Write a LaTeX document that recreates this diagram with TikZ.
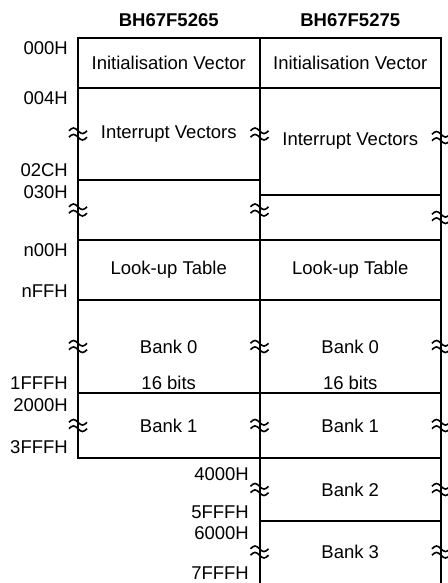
\documentclass[tikz,border=0pt]{standalone}
\usepackage{fontspec}
\setmainfont{Liberation Sans}
\usepackage{tikz}
\usetikzlibrary{positioning}

\begin{document}
\begin{tikzpicture}[
    x=1pt, y=-1pt,
    node distance=0pt,
    font=\fontsize{18.5}{22}\selectfont,
    cell/.style={draw, line width=2pt, rectangle, inner sep=0pt, outer sep=0pt,
      minimum width=181.5pt, align=center},
    addr/.style={anchor=east, inner sep=0pt},
    hdr/.style={font=\fontsize{18.5}{22}\selectfont\bfseries},
    brk/.pic={
      \draw[line width=1.6pt] (-9pt,3.2pt) sin (-4.5pt,6pt) cos (0pt,3.2pt) sin (4.5pt,0.4pt) cos (9pt,3.2pt);
      \draw[line width=1.6pt] (-9pt,-3.2pt) sin (-4.5pt,-0.4pt) cos (0pt,-3.2pt) sin (4.5pt,-6pt) cos (9pt,-3.2pt);
    }
  ]
    \useasboundingbox (0,0) rectangle (447,583);

    % left device
    \node[cell, minimum height=50pt, anchor=north west] (initL) at (78,38) {Initialisation Vector};
    \node[cell, minimum height=92pt, below=of initL] (intL) {Interrupt Vectors};
    \node[cell, minimum height=60pt, below=of intL] (gapL) {};
    \node[cell, minimum height=60pt, below=of gapL] (lutL) {Look-up Table};
    \node[cell, minimum height=93pt, below=of lutL] (bank0L) {Bank 0};
    \node[cell, minimum height=65pt, below=of bank0L] (bank1L) {Bank 1};
    \node (bitsL) at ([yshift=10pt]bank0L.south) {16 bits};

    % right device
    \node[cell, minimum height=50pt, right=of initL] (initR) {Initialisation Vector};
    \node[cell, minimum height=107pt, below=of initR] (intR) {Interrupt Vectors};
    \node[cell, minimum height=45pt, below=of intR] (gapR) {};
    \node[cell, minimum height=60pt, below=of gapR] (lutR) {Look-up Table};
    \node[cell, minimum height=93pt, below=of lutR] (bank0R) {Bank 0};
    \node[cell, minimum height=65pt, below=of bank0R] (bank1R) {Bank 1};
    \node[cell, minimum height=63pt, below=of bank1R] (bank2R) {Bank 2};
    \node[cell, draw=none, minimum height=62pt, below=of bank2R] (bank3R) {Bank 3};
    \draw[line width=2pt] (bank3R.south west) -- (bank3R.north west) -- (bank3R.north east) -- (bank3R.south east);
    \node (bitsR) at ([yshift=10pt]bank0R.south) {16 bits};

    \node[hdr] (chipL) at ([yshift=18pt]initL.north) {BH67F5265};
    \node[hdr] (chipR) at ([yshift=18pt]initR.north) {BH67F5275};

    % addresses
    \node[addr] (a000) at (68,48) {000H};
    \node[addr] (a004) at (68,98) {004H};
    \node[addr] (a02C) at (68,170) {02CH};
    \node[addr] (a030) at (68,192) {030H};
    \node[addr] (an00) at (68,250) {n00H};
    \node[addr] (anFF) at (68,291) {nFFH};
    \node[addr] (a1FFF) at (68,383) {1FFFH};
    \node[addr] (a2000) at (68,405) {2000H};
    \node[addr] (a3FFF) at (68,447) {3FFFH};
    \node[addr] (a4000) at (249,474) {4000H};
    \node[addr] (a5FFF) at (249,512) {5FFFH};
    \node[addr] (a6000) at (249,533) {6000H};
    \node[addr] (a7FFF) at (249,573) {7FFFH};

    % break marks
    \foreach \c in {intL, gapL, bank0L, bank1L} {
      \pic at (\c.west) {brk};
      \pic at (\c.east) {brk};
    }
    \foreach \c in {gapR, bank0R, bank1R, bank2R, bank3R}
      \pic at (\c.east) {brk};
    \foreach \c in {bank2R, bank3R}
      \pic at (\c.west) {brk};
    \pic at ([yshift=4pt]intR.east) {brk};
  \end{tikzpicture}
\end{document}
